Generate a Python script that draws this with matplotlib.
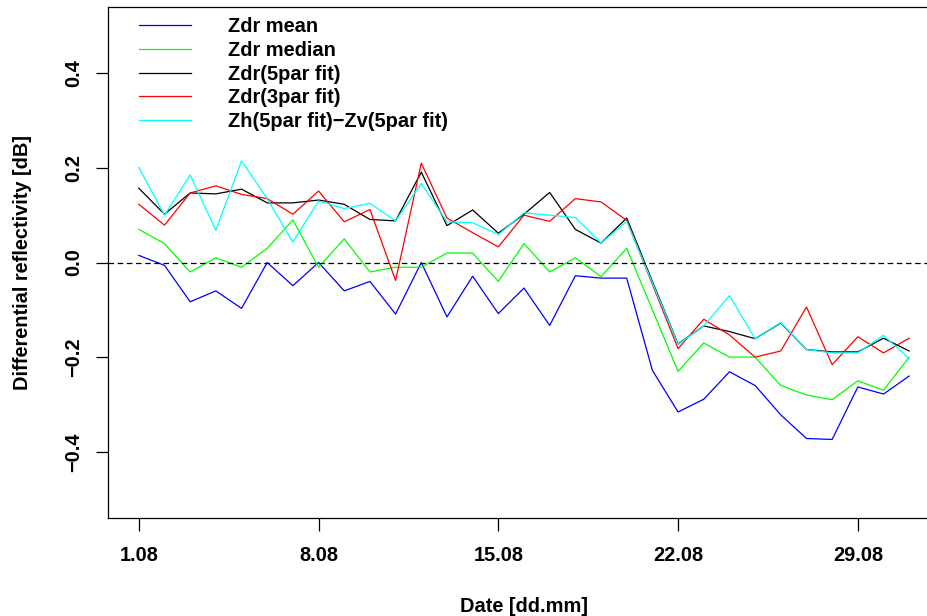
import matplotlib
matplotlib.use("Agg")
import matplotlib.pyplot as plt
import numpy as np

# Daily differential reflectivity, August (day of month 1..31)
days = list(range(1, 32))

zdr_mean = [0.015, -0.006, -0.083, -0.060, -0.097, 0.000, -0.049, 0.000, -0.060, -0.040,
            -0.109, 0.000, -0.115, -0.029, -0.108, -0.054, -0.133, -0.028, -0.033, -0.033,
            -0.228, -0.316, -0.289, -0.231, -0.260, -0.322, -0.372, -0.374, -0.263, -0.278,
            -0.240]

zdr_median = [0.07, 0.04, -0.02, 0.01, -0.01, 0.03, 0.09, -0.01, 0.05, -0.02,
              -0.01, -0.01, 0.02, 0.02, -0.04, 0.04, -0.02, 0.01, -0.03, 0.03,
              -0.10, -0.23, -0.17, -0.20, -0.20, -0.26, -0.28, -0.29, -0.25, -0.27,
              -0.20]

zdr_5par = [0.157, 0.102, 0.147, 0.145, 0.155, 0.126, 0.126, 0.132, 0.123, 0.091,
            0.088, 0.191, 0.078, 0.111, 0.062, 0.102, 0.148, 0.070, 0.041, 0.094,
            -0.040, -0.172, -0.134, -0.146, -0.161, -0.128, -0.184, -0.189, -0.189, -0.160,
            -0.187]

zdr_3par = [0.123, 0.079, 0.147, 0.162, 0.144, 0.135, 0.102, 0.151, 0.086, 0.112,
            -0.038, 0.210, 0.094, 0.063, 0.033, 0.100, 0.087, 0.135, 0.128, 0.089,
            -0.046, -0.182, -0.120, -0.153, -0.200, -0.187, -0.094, -0.216, -0.157, -0.191,
            -0.160]

zh_minus_zv = [0.201, 0.100, 0.185, 0.068, 0.215, 0.135, 0.043, 0.130, 0.114, 0.125,
               0.088, 0.167, 0.086, 0.084, 0.059, 0.105, 0.100, 0.095, 0.041, 0.087,
               -0.043, -0.173, -0.134, -0.070, -0.161, -0.127, -0.184, -0.191, -0.191, -0.154,
               -0.203]

series_labels = ["Zdr mean", "Zdr median", "Zdr(5par fit)", "Zdr(3par fit)",
                 "Zh(5par fit)\u2212Zv(5par fit)"]
series_colors = ["#0000FF", "#00FF00", "#000000", "#FF0000", "#00FFFF"]

xtick_days = [1, 8, 15, 22, 29]
xtick_labels = ["1.08", "8.08", "15.08", "22.08", "29.08"]
ytick_values = [-0.4, -0.2, 0.0, 0.2, 0.4]

plt.rcParams["font.family"] = ["Liberation Sans", "DejaVu Sans"]
plt.rcParams["font.weight"] = "bold"
plt.rcParams["lines.scale_dashes"] = False

W, H = 927, 616
fig = plt.figure(figsize=(W / 100, H / 100), dpi=100)
left_px, right_px, top_px, bottom_px = 108, 940, 7, 518
ax = fig.add_axes([left_px / W, 1 - bottom_px / H,
                   (right_px - left_px) / W, (bottom_px - top_px) / H])

lw = 0.9
all_series = [zdr_mean, zdr_median, zdr_5par, zdr_3par, zh_minus_zv]
for vals, lab, col in zip(all_series, series_labels, series_colors):
    ax.plot(days, vals, color=col, lw=lw, label=lab)

ax.axhline(0.0, color="black", lw=lw, dashes=(4.0, 2.6))

ax.set_xlim(-0.2, 32.2)
ax.set_ylim(-0.54, 0.54)

ax.set_xticks(xtick_days)
ax.set_xticklabels(xtick_labels)
ax.set_yticks(ytick_values)
ax.set_yticklabels([f"{v:.1f}".replace("-", "\u2212") for v in ytick_values],
                   rotation=90, va="center")

fs = 14.4
ax.tick_params(axis="both", direction="out", length=9, width=lw, labelsize=fs)
ax.tick_params(axis="x", pad=11)
ax.tick_params(axis="y", pad=8.8)
for s in ["left", "bottom", "top"]:
    ax.spines[s].set_linewidth(lw)
ax.spines["right"].set_visible(False)

fig.text(23 / W, 1 - 262.5 / H, "Differential reflectivity [dB]", rotation=90,
         ha="center", va="center", fontsize=fs, fontweight="bold")
fig.text(524 / W, 1 - 606 / H, "Date [dd.mm]", ha="center", va="center",
         fontsize=fs, fontweight="bold")

leg = ax.legend(loc="upper left", bbox_to_anchor=(139 / W, 1 - 17 / H),
                bbox_transform=fig.transFigure, frameon=False, fontsize=fs,
                borderpad=0, borderaxespad=0, handlelength=2.58,
                handletextpad=1.87, labelspacing=0.24)

fig.savefig("out.png", dpi=100)
